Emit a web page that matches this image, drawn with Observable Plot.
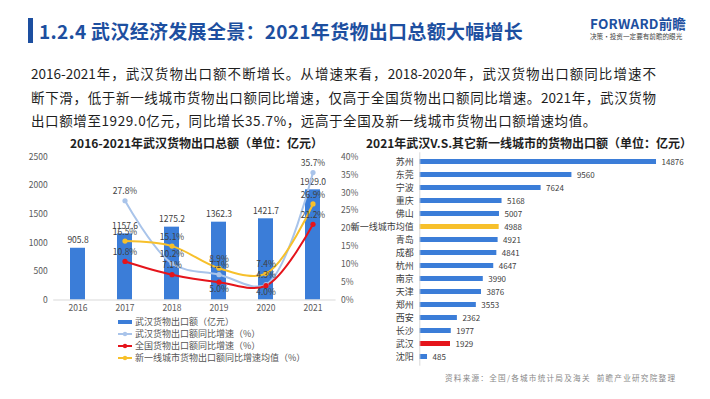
<!DOCTYPE html>
<html>
<head>
<meta charset="utf-8">
<script src="https://cdn.jsdelivr.net/npm/d3@7"></script>
<script src="https://cdn.jsdelivr.net/npm/@observablehq/plot@0.6"></script>
<style>
  html, body { margin: 0; padding: 0; background: #fff; }
  body { width: 710px; height: 399px; position: relative; overflow: hidden;
         font-family: "Noto Sans CJK SC", "Noto Sans", sans-serif; color: #222; }
  .abs { position: absolute; white-space: nowrap; }
  #bar { left: 28px; top: 18px; width: 5px; height: 25px; background: #1D4FA0; }
  #title { left: 39px; top: 18px; font-size: 19px; font-weight: 700; color: #1D4FA0; letter-spacing: 0.3px; line-height: 26px; }
  #logo { left: 590px; top: 15px; font-size: 13.5px; font-weight: 700; color: #1D4FA0; line-height: 16px; letter-spacing: 0.2px; }
  #slogan { left: 590px; top: 32px; font-size: 6.6px; color: #444; line-height: 9px; }
  .para { left: 31px; width: 625px; font-size: 13.5px; line-height: 20px; color: #1e1e1e; }
  .just { text-align: justify; text-align-last: justify; white-space: normal; }
  .sub { font-size: 12px; font-weight: 700; color: #1e1e1e; line-height: 16px; }
  #legend { left: 118px; top: 316px; font-size: 9px; color: #555; line-height: 12px; }
  #legend div { display: flex; align-items: center; height: 12px; }
  #legend svg { margin-right: 2px; }
  #source { left: 445px; top: 372px; font-size: 7.6px; color: #888; letter-spacing: 1.25px; line-height: 12px; }
  #left, #right { position: absolute; }
  #left { left: 0; top: 150px; }
  #right { left: 360px; top: 145px; }
</style>
</head>
<body>
<div id="bar" class="abs"></div>
<div id="title" class="abs">1.2.4 武汉经济发展全景：2021年货物出口总额大幅增长</div>
<div id="logo" class="abs">FORWARD前瞻</div>
<div id="slogan" class="abs">决策·投资一定要有前瞻的眼光</div>

<div class="abs para just" style="top:63px">2016-2021年，武汉货物出口额不断增长。从增速来看，2018-2020年，武汉货物出口额同比增速不</div>
<div class="abs para just" style="top:87px">断下滑，低于新一线城市货物出口额同比增速，仅高于全国货物出口额同比增速。2021年，武汉货物</div>
<div class="abs para" style="top:110px; letter-spacing:0.6px">出口额增至1929.0亿元，同比增长35.7%，远高于全国及新一线城市货物出口额增速均值。</div>

<div class="abs sub" style="left:70px; top:135px">2016-2021年武汉货物出口总额（单位：亿元）</div>
<div class="abs sub" style="left:366px; top:135px">2021年武汉V.S.其它新一线城市的货物出口额（单位：亿元）</div>

<div id="left"></div>
<div id="right"></div>
<div id="legend" class="abs"></div>
<div id="source" class="abs">资料来源：全国/各城市统计局及海关&nbsp;&nbsp;前瞻产业研究院整理</div>

<script>
// ---------- data ----------
const years = ["2016", "2017", "2018", "2019", "2020", "2021"];
const exportValues = [905.8, 1157.6, 1275.2, 1362.3, 1421.7, 1929.0];
const wuhanGrowth = [null, 27.8, 10.2, 7.1, 4.3, 35.7];
const nationalGrowth = [null, 10.8, 7.1, 5.0, 4.0, 21.2];
const tier1AvgGrowth = [null, 16.5, 15.1, 8.9, 7.4, 26.9];
const leftTicks = [0, 500, 1000, 1500, 2000, 2500];
const rightTicks = [0, 5, 10, 15, 20, 25, 30, 35, 40];

const seriesNames = ["武汉货物出口额（亿元）", "武汉货物出口额同比增速（%）", "全国货物出口额同比增速（%）", "新一线城市货物出口额同比增速均值（%）"];

const cities = ["苏州", "东莞", "宁波", "重庆", "佛山", "新一线城市均值", "青岛", "成都", "杭州", "南京", "天津", "郑州", "西安", "长沙", "武汉", "沈阳"];
const cityExports = [14876, 9560, 7624, 5168, 5007, 4988, 4921, 4841, 4647, 3990, 3876, 3553, 2362, 1977, 1929, 485];

// ---------- colours ----------
const BLUE = "#3B7DD8", LIGHT = "#A9C4EA", RED = "#E5141B", YELLOW = "#F7C02B";
const FONT = '"Noto Sans CJK SC", "Noto Sans", sans-serif';

// ---------- left chart ----------
const yMax = leftTicks[leftTicks.length - 1];
const pctMax = rightTicks[rightTicks.length - 1];
const k = yMax / pctMax; // percent -> left-axis units

const bars = years.map((y, i) => ({year: y, value: exportValues[i]}));
function series(arr, name) {
  return years.map((y, i) => ({year: y, pct: arr[i], name})).filter(d => d.pct != null);
}
const sWuhan = series(wuhanGrowth, "wuhan");
const sNat = series(nationalGrowth, "nat");
const sTier = series(tier1AvgGrowth, "tier");
const pctLabel = d => d.pct.toFixed(1) + "%";
const yPct = d => d.pct * k;

const left = Plot.plot({
  width: 360, height: 170,
  marginTop: 6.7, marginBottom: 20.5, marginLeft: 53.2, marginRight: 24.4,
  style: {fontFamily: FONT, fontSize: "8.5px", color: "#595959", background: "transparent", overflow: "visible"},
  x: {domain: years, paddingInner: 0.69, paddingOuter: 0.345, label: null},
  y: {domain: [0, yMax], label: null},
  marks: [
    Plot.barY(bars, {x: "year", y: "value", fill: BLUE}),
    Plot.ruleY([0], {stroke: "#d9d9d9"}),
    Plot.axisY(leftTicks, {tickSize: 0, tickPadding: 6, label: null, tickFormat: d => String(d), fill: "#595959"}),
    Plot.axisY(rightTicks.map(p => p * k), {anchor: "right", label: null, tickSize: 0, tickPadding: 5, tickFormat: d => Math.round(d / k) + "%", fill: "#595959"}),
    Plot.axisX({tickSize: 0, tickPadding: 5, label: null, fill: "#595959"}),
    Plot.text(bars, {x: "year", y: "value", text: d => d.value.toFixed(1), dy: -8, fill: "#404040"}),
    Plot.line(sWuhan, {x: "year", y: yPct, stroke: LIGHT, strokeWidth: 2, curve: "catmull-rom"}),
    Plot.line(sNat, {x: "year", y: yPct, stroke: RED, strokeWidth: 2, curve: "catmull-rom"}),
    Plot.line(sTier, {x: "year", y: yPct, stroke: YELLOW, strokeWidth: 2, curve: "catmull-rom"}),
    Plot.dot(sWuhan, {x: "year", y: yPct, fill: LIGHT, r: 2.6}),
    Plot.dot(sNat, {x: "year", y: yPct, fill: RED, r: 2.6}),
    Plot.dot(sTier, {x: "year", y: yPct, fill: YELLOW, r: 2.6}),
    Plot.text(sWuhan, {x: "year", y: yPct, text: pctLabel, dy: -9, fill: "#404040"}),
    Plot.text(sTier, {x: "year", y: yPct, text: pctLabel, dy: -9, fill: "#404040"}),
    Plot.text(sNat.filter(d => +d.year < 2019 || +d.year > 2020), {x: "year", y: yPct, text: pctLabel, dy: -9, fill: "#404040"}),
    Plot.text(sNat.filter(d => +d.year >= 2019 && +d.year <= 2020), {x: "year", y: yPct, text: pctLabel, dy: 7, fill: "#404040"})
  ]
});
document.getElementById("left").appendChild(left);

// ---------- legend ----------
const legendColors = [BLUE, LIGHT, RED, YELLOW];
const legend = document.getElementById("legend");
seriesNames.forEach((name, i) => {
  const row = document.createElement("div");
  const sw = i === 0
    ? `<svg width="15" height="8"><rect x="0" y="2" width="14" height="4" fill="${legendColors[i]}"/></svg>`
    : `<svg width="15" height="8"><line x1="0" y1="4" x2="14" y2="4" stroke="${legendColors[i]}" stroke-width="2"/><circle cx="7" cy="4" r="2.2" fill="${legendColors[i]}"/></svg>`;
  row.innerHTML = sw + `<span>${name}</span>`;
  legend.appendChild(row);
});

// ---------- right chart ----------
const cityData = cities.map((c, i) => ({city: c, value: cityExports[i]}));
const cityFill = d => d.city === "武汉" ? RED : d.city === "新一线城市均值" ? YELLOW : BLUE;

const right = Plot.plot({
  width: 350, height: 225,
  marginTop: 7.3, marginBottom: 4.3, marginLeft: 59.3, marginRight: 36.1,
  style: {fontFamily: FONT, fontSize: "9px", color: "#404040", background: "transparent", overflow: "visible"},
  x: {domain: [0, 16000], axis: null},
  y: {domain: cities, paddingInner: 0.6, paddingOuter: 0.3, label: null},
  marks: [
    Plot.barX(cityData, {y: "city", x: "value", fill: cityFill}),
    Plot.ruleX([0], {stroke: "#d9d9d9"}),
    Plot.axisY({tickSize: 0, tickPadding: 6, label: null, fill: "#404040"}),
    Plot.text(cityData, {y: "city", x: "value", text: d => String(d.value), dx: 5, textAnchor: "start", fontSize: 8, fill: "#404040"})
  ]
});
document.getElementById("right").appendChild(right);
</script>
</body>
</html>
